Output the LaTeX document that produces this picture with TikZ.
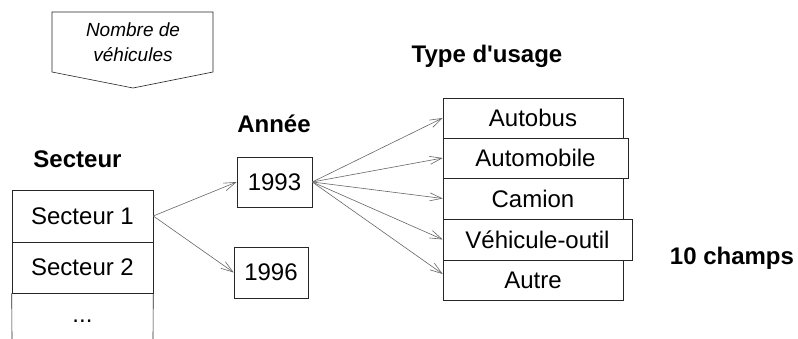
\documentclass[tikz,border=0pt]{standalone}
\usepackage{fontspec}
\setmainfont{Liberation Sans}
\usetikzlibrary{arrows.meta}
\begin{document}
\begin{tikzpicture}[x=1pt,y=-1pt,
  cell/.style={draw=black!85, line width=0.6pt, inner sep=0pt, font=\fontsize{24}{28}\selectfont},
  title/.style={anchor=base, inner sep=0pt, font=\fontsize{24}{28}\selectfont\bfseries},
  link/.style={draw=black!60, line width=0.6pt, -{Straight Barb[length=12pt,width=8pt]}},
]
\useasboundingbox (0,0) rectangle (798,339);

% note shape
\draw[black!85, line width=0.6pt] (52,12) -- (213,12) -- (213,72) -- (133,88) -- (52,72) -- cycle;
\node[inner sep=0pt, align=center, font=\fontsize{19}{25}\selectfont\itshape] (note) at (133,42) {Nombre de\\véhicules};

% titles
\node[title] (tsect) at (77.5,168) {Secteur};
\node[title] (tyear) at (274,133) {Année};
\node[title] (ttype) at (487,63) {Type d\textquotesingle usage};
\node[title] (tten) at (732,265) {10 champs};

% Secteur table
\node[cell, minimum width=141pt, minimum height=52pt] (s1) at (82.5,216) {Secteur 1};
\node[cell, minimum width=141pt, minimum height=51pt] (s2) at (82.5,267.5) {Secteur 2};
\node[inner sep=0pt, font=\fontsize{24}{28}\selectfont] (s3) at (82.5,321) {...};
\coordinate (s3l) at (12,339);
\coordinate (s3r) at (153,339);
\draw[black!85, line width=0.6pt] (s2.south west) -- (s3l);
\draw[black!85, line width=0.6pt] (s2.south east) -- (s3r);

% years
\node[cell, minimum width=75pt, minimum height=50pt] (y93) at (274.5,182) {1993};
\node[cell, minimum width=74pt, minimum height=51pt] (y96) at (271,272.5) {1996};

% usage types
\node[cell, minimum width=180pt, minimum height=40pt] (u1) at (533,118) {Autobus};
\node[cell, minimum width=185pt, minimum height=40pt] (u2) at (535.5,158) {Automobile};
\node[cell, minimum width=180pt, minimum height=41pt] (u3) at (533,198.5) {Camion};
\node[cell, minimum width=189pt, minimum height=41pt] (u4) at (537.5,239.5) {Véhicule-outil};
\node[cell, minimum width=180pt, minimum height=40pt] (u5) at (533,280) {Autre};

% connectors
\draw[link] (s1.east) -- (y93.west);
\draw[link] (s1.east) -- (y96.west);
\draw[link] (y93.east) -- (u1.west);
\draw[link] (y93.east) -- (u2.west);
\draw[link] (y93.east) -- (u3.west);
\draw[link] (y93.east) -- (u4.west);
\draw[link] (y93.east) -- ([yshift=6pt]u5.west);
\end{tikzpicture}
\end{document}
